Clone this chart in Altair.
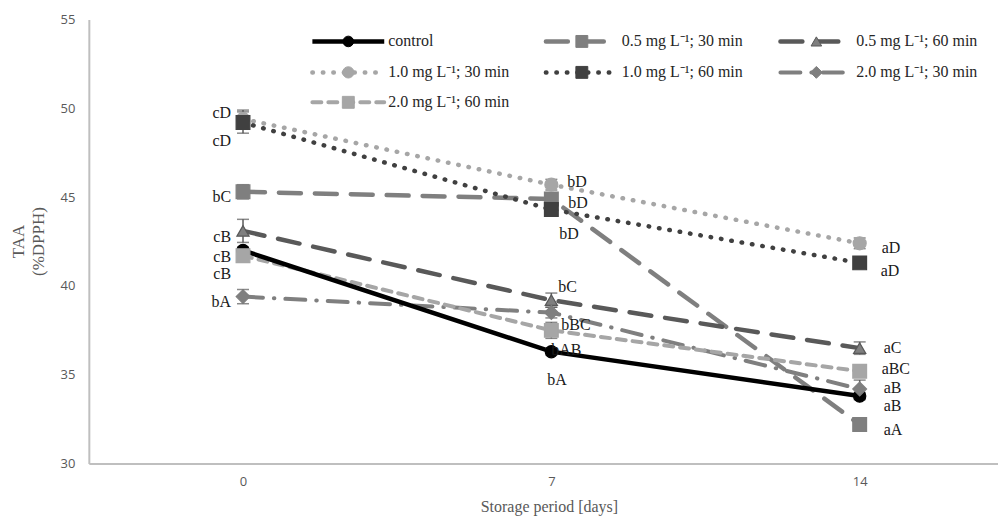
import altair as alt
import pandas as pd

# ---------------- data ----------------
days = [0, 7, 14]
series_names = [
    "control",
    "0.5 mg L\u207b\u00b9; 30 min",
    "0.5 mg L\u207b\u00b9; 60 min",
    "1.0 mg L\u207b\u00b9; 30 min",
    "1.0 mg L\u207b\u00b9; 60 min",
    "2.0 mg L\u207b\u00b9; 30 min",
    "2.0 mg L\u207b\u00b9; 60 min",
]
control = [42.0, 36.3, 33.8]
s05_30 = [45.3, 44.9, 32.2]
s05_60 = [43.1, 39.2, 36.5]
s10_30 = [49.4, 45.7, 42.4]
s10_60 = [49.2, 44.3, 41.3]
s20_30 = [39.4, 38.5, 34.2]
s20_60 = [41.7, 37.5, 35.2]

err_control = [0.2, 0.2, 0.2]
err_05_30 = [0.4, 0.3, 0.2]
err_05_60 = [0.65, 0.4, 0.35]
err_10_30 = [0.5, 0.3, 0.3]
err_10_60 = [0.6, 0.3, 0.2]
err_20_30 = [0.4, 0.3, 0.5]
err_20_60 = [0.3, 0.45, 0.3]

lab_control = ["cB", "bA", "aB"]
lab_05_30 = ["bC", "bD", "aA"]
lab_05_60 = ["cB", "bC", "aC"]
lab_10_30 = ["cD", "bD", "aD"]
lab_10_60 = ["cD", "bD", "aD"]
lab_20_30 = ["bA", "bBC", "aB"]
lab_20_60 = ["cB", "bAB", "aBC"]

values = [control, s05_30, s05_60, s10_30, s10_60, s20_30, s20_60]
errors = [err_control, err_05_30, err_05_60, err_10_30, err_10_60, err_20_30, err_20_60]
letters = [lab_control, lab_05_30, lab_05_60, lab_10_30, lab_10_60, lab_20_30, lab_20_60]

# ---------------- styles ----------------
styles = [
    dict(color="#000000", mcolor="#000000", mstroke="#000000", dash=None, cap="butt", w=4.5, shape="circle", size=150),
    dict(color="#7f7f7f", mcolor="#7f7f7f", mstroke="#7f7f7f", dash=[22, 14], cap="round", w=4.5, shape="square", size=190),
    dict(color="#595959", mcolor="#7f7f7f", mstroke="#595959", dash=[22, 14], cap="round", w=4.5, shape="triangle-up", size=150),
    dict(color="#a6a6a6", mcolor="#a6a6a6", mstroke="#a6a6a6", dash=[0.5, 10], cap="round", w=4.5, shape="circle", size=170),
    dict(color="#404040", mcolor="#404040", mstroke="#404040", dash=[0.5, 10], cap="round", w=4.5, shape="square", size=190),
    dict(color="#7f7f7f", mcolor="#7f7f7f", mstroke="#7f7f7f", dash=[20, 11, 0.5, 11], cap="round", w=4.0, shape="diamond", size=190),
    dict(color="#a6a6a6", mcolor="#a6a6a6", mstroke="#a6a6a6", dash=[9, 7], cap="round", w=4.0, shape="square", size=190),
]

# label offsets in pixels (dx, dy) per series per day
label_dx = [
    [-12, -4, 24],
    [-12, 17, 24],
    [-12, 7, 24],
    [-12, 16, 22],
    [-12, 8, 21],
    [-12, 10, 24],
    [-12, 0, 22],
]
label_dy = [
    [6.5, 28, 10],
    [5, 4, 6],
    [6, -13, 0],
    [-6, -3, 5],
    [19, 24, 8],
    [5, 12, -1],
    [18, 19.5, -2],
]

W, H = 911, 445
XDOM = [-3.5, 17.14]
YDOM = [30, 55]
SERIF = "Liberation Serif"
SANS = "Open Sans"

xs = alt.Scale(domain=XDOM, nice=False, zero=False)
ys = alt.Scale(domain=YDOM, nice=False, zero=False)

rows = []
for i, name in enumerate(series_names):
    for j, d in enumerate(days):
        v = values[i][j]
        e = errors[i][j]
        rows.append(dict(series=name, idx=i, day=d, value=v, lo=v - e, hi=v + e, lab=letters[i][j], j=j))
df = pd.DataFrame(rows)

base = alt.Chart(df)

X = alt.X(
    "day:Q",
    scale=xs,
    axis=alt.Axis(
        values=days, format="d", ticks=False, grid=False, labelFont=SANS, labelFontSize=13,
        labelColor="#595959", labelPadding=12, domainColor="#bfbfbf", domainWidth=2,
        title="Storage period [days]", titleFont=SERIF, titleFontSize=16, titleFontWeight="normal",
        titleColor="#595959", titleX=461, titleY=43, titleBaseline="middle", titleAlign="center",
    ),
)
Y = alt.Y(
    "value:Q",
    scale=ys,
    axis=alt.Axis(
        values=[30, 35, 40, 45, 50, 55], ticks=False, grid=False, labelFont=SANS, labelFontSize=13,
        labelColor="#595959", labelPadding=14, domainColor="#bfbfbf", domainWidth=2,
        title=["TAA", "(%DPPH)"], titleFont=SERIF, titleFontSize=17, titleFontWeight="normal",
        titleColor="#595959", titleX=-78, titleY=222, titleBaseline="top", titleAlign="center",
        titleAngle=-90, titleLineHeight=20,
    ),
)

layers = []
line_order = [1, 2, 3, 4, 5, 6, 0]
for k, i in enumerate(line_order):
    st = styles[i]
    kw = dict(color=st["color"], strokeWidth=st["w"], strokeCap=st["cap"])
    if st["dash"] is not None:
        kw["strokeDash"] = st["dash"]
    enc_x = X if k == 0 else alt.X("day:Q", scale=xs)
    enc_y = Y if k == 0 else alt.Y("value:Q", scale=ys)
    layers.append(
        base.transform_filter(alt.datum.idx == i).mark_line(**kw).encode(x=enc_x, y=enc_y, order="day:Q")
    )

for i in range(len(series_names)):
    sub = base.transform_filter(alt.datum.idx == i)
    layers.append(
        sub.mark_rule(color="#595959", strokeWidth=1.5).encode(
            x=alt.X("day:Q", scale=xs), y=alt.Y("lo:Q", scale=ys), y2="hi:Q"
        )
    )
    for fld in ["lo", "hi"]:
        layers.append(
            sub.mark_tick(orient="horizontal", size=12, thickness=1.5, color="#595959").encode(
                x=alt.X("day:Q", scale=xs), y=alt.Y(f"{fld}:Q", scale=ys)
            )
        )

for i in range(len(series_names)):
    st = styles[i]
    layers.append(
        base.transform_filter(alt.datum.idx == i)
        .mark_point(shape=st["shape"], size=st["size"], filled=True, fill=st["mcolor"],
                    stroke=st["mstroke"], strokeWidth=1.2, opacity=1)
        .encode(x=alt.X("day:Q", scale=xs), y=alt.Y("value:Q", scale=ys))
    )

# data labels
for i in range(len(series_names)):
    for j in range(len(days)):
        dx = label_dx[i][j]
        dy = label_dy[i][j]
        layers.append(
            base.transform_filter((alt.datum.idx == i) & (alt.datum.j == j))
            .mark_text(font=SERIF, fontSize=16, color="#1a1a1a", align="right" if j == 0 else "left",
                       baseline="middle", dx=dx, dy=dy)
            .encode(x=alt.X("day:Q", scale=xs), y=alt.Y("value:Q", scale=ys), text="lab:N")
        )

# legend (drawn manually)
one = pd.DataFrame({"a": [0]})
leg_cols = [224, 458, 693]
leg_rows = [22, 53, 83]
for i, name in enumerate(series_names):
    st = styles[i]
    cx = leg_cols[i % 3]
    cy = leg_rows[i // 3]
    kw = dict(color=st["color"], strokeWidth=st["w"], strokeCap=st["cap"])
    if st["dash"] is not None:
        kw["strokeDash"] = st["dash"]
    lc = alt.Chart(one)
    layers.append(lc.mark_rule(**kw).encode(x=alt.value(cx), x2=alt.value(cx + 72), y=alt.value(cy)))
    layers.append(
        lc.mark_point(shape=st["shape"], size=st["size"] * 0.75, filled=True, fill=st["mcolor"],
                      stroke=st["mstroke"], strokeWidth=1.0, opacity=1)
        .encode(x=alt.value(cx + 36), y=alt.value(cy))
    )
    layers.append(
        lc.mark_text(font=SERIF, fontSize=16, color="#262626", align="left", baseline="middle", text=name)
        .encode(x=alt.value(cx + 76), y=alt.value(cy))
    )

chart = (
    alt.layer(*layers)
    .properties(
        width=W, height=H,
        autosize=alt.AutoSizeParams(type="none"),
        padding={"left": 81, "top": 11, "right": 0, "bottom": 53},
        background="white",
    )
    .configure_view(stroke=None)
)

chart.save("out.html", embed_options={"renderer": "svg", "actions": False})
